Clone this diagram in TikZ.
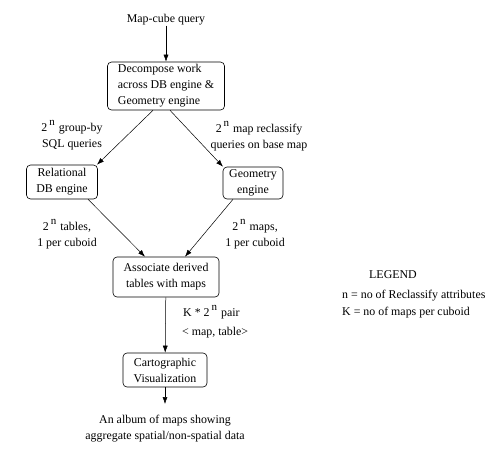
\documentclass[tikz,border=0pt]{standalone}
\usepackage{fontspec}
\setmainfont{Liberation Serif}
\usetikzlibrary{arrows.meta}
\newcommand{\tn}{2\,\raisebox{6pt}{\fontsize{11}{11}\selectfont n}\,\,}
\begin{document}
\begin{tikzpicture}[x=1pt,y=-1pt,
  every node/.style={font=\fontsize{11.9}{16}\selectfont},
  procbox/.style={draw,rounded corners=4pt,line width=0.6pt,align=center,inner xsep=3pt,inner ysep=2pt},
  lbl/.style={align=center,inner sep=0pt},
  flow/.style={line width=0.5pt,-{Latex[length=7pt,width=5pt]}}]
\useasboundingbox (0,0) rectangle (493,459);
\node[lbl] (query) at (166,20) {Map-cube query};
\node[procbox,minimum width=117pt,minimum height=48pt,align=left] (decomp) at (166,86) {Decompose work\\across DB engine \&\\Geometry engine};
\node[procbox,minimum width=71pt,minimum height=34pt] (rel) at (62,182) {Relational\\DB engine};
\node[procbox,minimum width=60pt,minimum height=32pt] (geo) at (253,183) {Geometry\\engine};
\node[procbox,minimum width=106pt,minimum height=40pt] (assoc) at (166,277) {Associate derived\\tables with maps};
\node[procbox,minimum width=84pt,minimum height=34pt] (carto) at (165,370) {Cartographic\\Visualization};
\coordinate (out) at (165,404);
\node[lbl] (album) at (165,429) {An album of maps showing\\aggregate spatial/non-spatial data};

\node[lbl] (l1) at (72,135) {\tn group-by\\SQL queries};
\node[lbl] (l2) at (259,136) {\tn map reclassify\\queries on base map};
\node[lbl] (l3) at (67,234) {\tn tables,\\1 per cuboid};
\node[lbl] (l4) at (255,234) {\tn maps,\\1 per cuboid};
\node[lbl,anchor=west] (l5) at (183,312) {K * \tn pair};
\node[lbl,anchor=west] (l6) at (182,333) {< map, table>};

\node[lbl] (leg) at (393,275) {LEGEND};
\node[lbl,anchor=west] (leg1) at (342,296) {n = no of Reclassify attributes};
\node[lbl,anchor=west] (leg2) at (342,313) {K = no of maps per cuboid};

\draw[flow] (query) -- (decomp);
\draw[flow] ([xshift=-13pt]decomp.south) -- ([xshift=35pt]rel.north);
\draw[flow] ([xshift=4pt]decomp.south) -- ([xshift=-30pt]geo.north);
\draw[flow] ([xshift=26pt]rel.south) -- ([xshift=-21pt]assoc.north);
\draw[flow] ([xshift=-20pt]geo.south) -- ([xshift=19pt]assoc.north);
\draw[flow] (assoc) -- (carto);
\draw[flow] (carto) -- (out);
\end{tikzpicture}
\end{document}
